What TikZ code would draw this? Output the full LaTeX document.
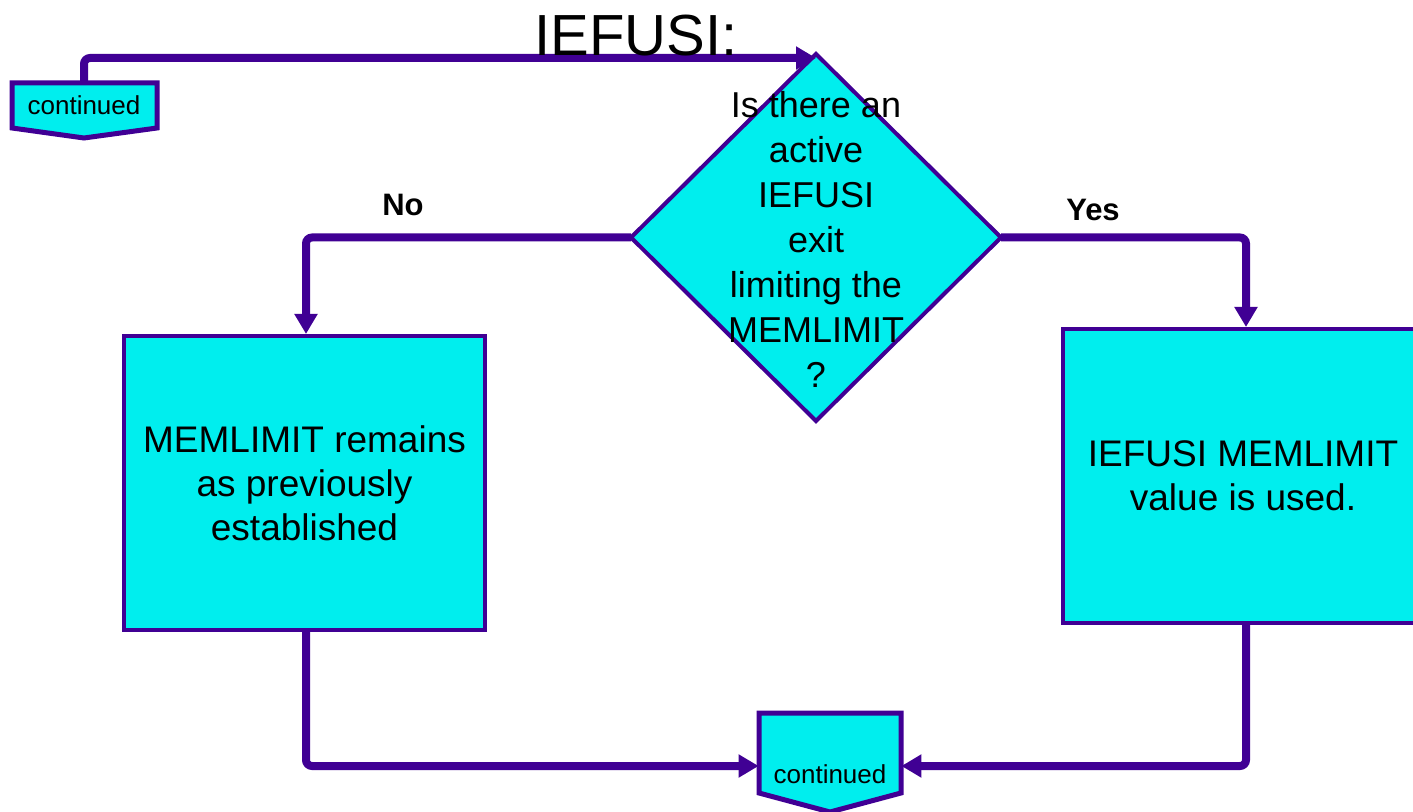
\documentclass[tikz,border=0pt]{standalone}
\usepackage{fontspec}
\setmainfont{Liberation Sans}
\usetikzlibrary{shapes.geometric,arrows.meta,calc}
\definecolor{lineC}{RGB}{64,0,148}
\definecolor{fillC}{RGB}{0,238,238}
\tikzset{
  flow/.style={draw=lineC, line width=4pt, rounded corners=3pt, -{Triangle[length=10pt,width=11pt]}},
  boxnode/.style={draw=lineC, fill=fillC, line width=2pt, rectangle, align=center, inner sep=0pt,
    font=\fontsize{18.5}{22}\selectfont},
  decnode/.style={draw=lineC, fill=fillC, line width=2pt, diamond, inner sep=0pt, outer sep=0pt,
    minimum width=185pt, minimum height=183.5pt},
  decitext/.style={align=center, font=\fontsize{18}{22.5}\selectfont},
  pent/.style={draw=lineC, fill=fillC, line width=2.5pt, line join=miter},
  conn/.style={inner sep=0pt, font=\fontsize{13}{15}\selectfont},
  lab/.style={font=\bfseries\fontsize{15.5}{18}\selectfont},
  titletext/.style={font=\fontsize{29}{34}\selectfont}
}
\begin{document}
\begin{tikzpicture}[x=0.5pt,y=-0.5pt]
\clip (0,0) rectangle (1413,812);
\fill[white] (0,0) rectangle (1413,812);

% off-page connector shapes
\path[pent] (12,83) -- (157,83) -- (157,128) -- (84,138) -- (12,128) -- cycle;
\path[pent] (759,713) -- (901,713) -- (901,793) -- (830,812) -- (759,793) -- cycle;

\node[conn, minimum width=72.5pt, minimum height=23pt] (c1) at (84,105.5) {continued};
\node[conn, minimum width=71pt, minimum height=53pt,
      label={[conn, yshift=-4pt]center:continued}] (c2) at (830,766) {};

\node[decnode] (q) at (816,237.5) {};
\node[decitext] (qt) at (816,239) {Is there an\\active\\IEFUSI\\exit\\limiting the\\MEMLIMIT\\?};

\node[boxnode, minimum width=180.5pt, minimum height=147pt] (b1) at (304.5,483)
  {MEMLIMIT remains\\as previously\\established};
\node[boxnode, minimum width=180pt, minimum height=147pt] (b2) at (1243,476)
  {IEFUSI MEMLIMIT\\value is used.};

% connectors
\draw[flow] (c1.north) |- ($(q.north)+(0,4)$);
\draw[flow] (q.west) -| ($(b1.north)+(1.5,0)$);
\draw[flow] (q.east) -| ($(b2.north)+(3,0)$);
\draw[flow] ($(b1.south)+(1.5,0)$) |- (c2.west);
\draw[flow] ($(b2.south)+(3,0)$) |- (c2.east);

% labels
\node[lab] (no) at (403,205) {No};
\node[lab] (yes) at (1093,210) {Yes};
\node[titletext] (title) at (636,36) {IEFUSI:};
\end{tikzpicture}
\end{document}
